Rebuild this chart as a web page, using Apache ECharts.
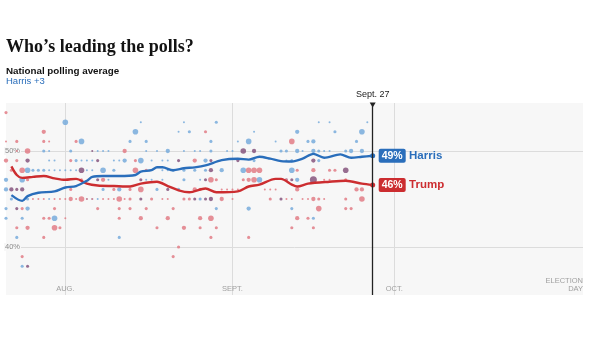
<!DOCTYPE html>
<html><head><meta charset="utf-8">
<script src="https://cdn.jsdelivr.net/npm/echarts@6/dist/echarts.min.js"></script>
<style>html,body{margin:0;padding:0;background:#fff}#c{width:600px;height:337px}</style>
</head><body><div id="c"></div>
<script>
// ---------- data ----------
const year = '2024-';
const startDate = '07-21', endDate = '11-05', asOfDate = '09-27';
const yMin = 35, yMax = 55;
const monthTicks = ['08-01', '09-01', '10-01'];
const monthTickLabels = ['AUG.', 'SEPT.', 'OCT.'];
const electionLabel = 'ELECTION\nDAY';
const yGridValues = [40, 50];
const yGridLabels = ['40%', '50%'];
const asOfLabel = 'Sept. 27';
const candidates = ['Harris', 'Trump'];
const endLabels = ['49%', '46%'];
const titleText = 'Who\u2019s leading the polls?';
const subtitleText = 'National polling average';
const leadText = 'Harris +3';

const harrisAvg = [['07-22',45.4],['07-24',44.8],['07-25',45.3],['07-27',45.65],['07-30',45.8],['08-01',46.2],['08-03',46.35],['08-05',46.9],['08-06',47.3],['08-08',47.4],['08-11',47.4],['08-14',47.5],['08-15',47.85],['08-17',48.0],['08-18',48.3],['08-19',48.3],['08-21',48.0],['08-23',48.2],['08-25',48.3],['08-27',48.5],['08-30',49.05],['09-02',49.2],['09-04',49.1],['09-06',49.4],['09-08',49.2],['09-10',48.95],['09-12',48.9],['09-14',49.2],['09-16',49.7],['09-18',49.3],['09-21',49.65],['09-23',49.3],['09-25',49.4],['09-27',49.5]];
const trumpAvg = [['07-22',48.4],['07-23',47.5],['07-24',47.2],['07-26',47.3],['07-28',47.4],['07-30',47.15],['08-01',47.0],['08-03',47.1],['08-05',46.6],['08-07',46.4],['08-10',46.35],['08-13',46.3],['08-15',46.6],['08-18',46.8],['08-20',46.35],['08-22',45.9],['08-24',45.7],['08-27',46.1],['08-29',45.7],['09-02',45.8],['09-04',46.3],['09-06',46.5],['09-09',47.1],['09-10',47.1],['09-12',46.5],['09-13',46.3],['09-15',46.6],['09-19',46.8],['09-22',46.9],['09-25',46.6],['09-27',46.45]];

// individual polls: [date, percent, poll weight 1..5]
const harrisPolls = [
['07-21',47,3],['07-21',46,3],['07-21',44,2],['07-21',43,2],['07-22',45,2],['07-23',41,2],
['07-24',47,4],['07-24',43,2],['07-24',38,2],['07-25',48,4],['07-25',45,2],['07-25',44,3],
['07-26',48,2],['07-27',48,2],['07-28',50,2],['07-28',48,2],['07-29',50,1],['07-29',49,1],['07-29',48,1],['07-29',45,1],
['07-30',49,1],['07-30',48,1],['07-30',43,4],['07-31',48,1],['08-01',53,4],['08-01',48,1],['08-02',50,2],['08-02',48,1],
['08-03',49,2],['08-03',48,1],['08-04',51,4],['08-04',49,1],['08-05',49,1],['08-05',48,1],['08-05',45,1],
['08-06',49,1],['08-06',48,1],['08-06',45,1],['08-07',50,1],['08-07',45,1],['08-08',50,1],['08-08',48,4],['08-08',46,2],
['08-09',50,1],['08-09',47,1],['08-10',49,1],['08-10',48,2],['08-11',49,1],['08-11',46,3],['08-11',41,2],['08-12',49,3],
['08-13',51,2],['08-14',52,4],['08-15',53,1],['08-15',49,4],['08-16',51,2],['08-16',50,1],['08-16',47,1],['08-17',49,1],['08-17',47,1],
['08-18',50,1],['08-18',46,2],['08-19',49,1],['08-19',48,1],['08-19',47,1],['08-20',50,3],['08-20',49,1],['08-20',48,1],['08-21',48,2],
['08-22',52,1],['08-22',46,2],['08-23',53,1],['08-23',50,1],['08-23',48,2],['08-23',47,2],['08-24',52,2],['08-25',50,1],['08-25',48,2],
['08-26',50,1],['08-26',47,1],['08-26',45,2],['08-27',49,3],['08-27',48,2],['08-28',51,2],['08-28',50,2],['08-29',53,2],['08-29',44,2],
['08-30',48,3],['08-31',50,1],['09-01',50,1],['09-02',51,1],['09-03',48,4],['09-04',51,4],['09-04',44,3],['09-05',52,1],['09-05',49,2],
['09-06',47,4],['09-09',51,1],['09-10',50,2],['09-11',50,2],['09-11',49,1],['09-11',47,2],['09-12',49,2],['09-12',48,4],['09-12',44,2],
['09-13',52,3],['09-13',50,3],['09-13',47,3],['09-14',50,1],['09-15',51,2],['09-16',51,3],['09-16',50,3],['09-16',43,2],
['09-17',53,1],['09-17',50,2],['09-17',49,2],['09-18',50,1],['09-19',53,1],['09-19',50,1],['09-20',52,2],['09-22',50,2],
['09-23',50,3],['09-24',51,2],['09-25',52,4],['09-25',50,3],['09-26',53,1]
];
const trumpPolls = [
['07-21',54,2],['07-21',51,1],['07-21',49,3],['07-22',48,2],['07-23',51,2],['07-23',50,1],['07-23',49,2],['07-23',42,2],
['07-24',48,4],['07-24',44,2],['07-24',39,2],['07-25',50,4],['07-25',47,2],['07-25',42,3],['07-26',45,1],['07-27',45,1],
['07-28',52,3],['07-28',51,2],['07-28',45,1],['07-28',43,2],['07-28',41,2],['07-29',51,1],['07-29',43,2],['07-30',45,1],['07-30',44,2],['07-30',42,4],
['07-31',45,1],['07-31',42,2],['08-01',45,1],['08-01',43,1],['08-02',49,2],['08-02',46,2],['08-02',45,3],['08-03',51,2],['08-03',45,1],
['08-04',47,2],['08-04',45,4],['08-05',45,1],['08-06',45,1],['08-07',44,2],['08-08',47,3],['08-08',45,1],['08-09',45,1],
['08-10',46,2],['08-10',45,1],['08-11',45,4],['08-11',44,2],['08-11',43,2],['08-12',50,3],['08-12',45,1],['08-13',46,2],['08-13',45,2],['08-13',44,2],
['08-14',49,2],['08-14',48,4],['08-15',46,4],['08-15',43,3],['08-16',48,2],['08-16',44,2],['08-17',45,2],['08-18',42,2],['08-19',45,1],
['08-20',45,1],['08-20',43,3],['08-21',44,2],['08-21',39,2],['08-22',40,2],['08-23',45,2],['08-23',42,3],['08-24',45,2],
['08-25',49,3],['08-25',46,3],['08-26',46,2],['08-26',43,3],['08-26',42,2],['08-27',52,2],['08-28',47,4],['08-28',43,4],['08-28',41,2],
['08-29',47,2],['08-29',42,2],['08-30',46,1],['08-30',45,3],['08-31',46,1],['09-01',46,1],['09-01',45,1],['09-02',46,1],['09-03',47,2],
['09-04',48,4],['09-04',47,3],['09-04',41,2],['09-05',48,4],['09-05',47,4],['09-06',48,4],['09-07',46,1],['09-08',46,1],['09-08',45,2],['09-09',46,1],
['09-11',47,2],['09-11',45,1],['09-12',51,4],['09-12',45,1],['09-12',42,2],['09-13',48,2],['09-13',46,3],['09-13',43,3],['09-14',45,1],
['09-15',45,1],['09-15',43,2],['09-16',48,3],['09-16',45,3],['09-16',42,2],['09-17',45,2],['09-17',44,4],['09-18',47,1],['09-18',45,1],
['09-19',48,2],['09-19',47,1],['09-20',48,2],['09-22',47,2],['09-22',45,2],['09-22',44,2],['09-23',44,2],['09-24',46,3],['09-25',46,3],['09-25',45,4]
];
const overlapPolls = [
['07-22',46,3],['07-23',46,2],['07-23',44,2],['07-24',46,3],['07-25',49,3],['07-25',38,2],
['08-04',48,4],['08-06',50,1],['08-07',49,2],['08-07',47,2],['08-15',47,2],['08-15',45,2],['08-20',46,2],['08-22',49,2],
['08-25',45,2],['08-27',47,2],['08-27',45,2],['08-28',49,2],['08-28',48,3],['08-28',45,3],
['09-02',49,2],['09-03',50,4],['09-05',50,3],['09-10',45,2],['09-12',47,2],['09-16',49,3],['09-16',47,5],['09-22',48,4]
];

// ---------- styling ----------
const SANS = 'Liberation Sans, Arial, sans-serif';
const BLUE = '#2a6ebb', RED = '#cc2d30';
const DOT_BLUE = '#78abdc', DOT_RED = '#e27d86', DOT_PURPLE = '#86557e';
const BG = '#f7f7f7';
const dotSizes = [0, 2, 3.1, 4.3, 5.6, 7];
const ts = s => +echarts.time.parse(year + s);
const toPoints = arr => arr.map(p => [ts(p[0]), p[1], p[2]]);

function dotSeries(name, arr, color, opacity) {
  return {
    type: 'scatter', name, data: toPoints(arr), silent: true, z: 2,
    symbolSize: v => dotSizes[v[2]],
    itemStyle: { color, opacity }
  };
}
function avgSeries(idx, arr, color) {
  const n = arr.length;
  return {
    type: 'line', name: candidates[idx], z: 4, smooth: 0.3, silent: true,
    symbol: 'none', showSymbol: true, showAllSymbol: true,
    data: arr.map((p, i) => i === n - 1
      ? { value: [ts(p[0]), p[1]], symbol: 'circle', symbolSize: 5 }
      : [ts(p[0]), p[1]]),
    lineStyle: { color, width: 2.4 },
    itemStyle: { color },
    endLabel: {
      show: true, distance: 6,
      formatter: () => '{box|' + endLabels[idx] + '} {name|' + candidates[idx] + '}',
      rich: {
        box: { backgroundColor: color, color: '#fff', fontWeight: 'bold', fontSize: 10.5, fontFamily: SANS,
               padding: [2, 3, 1, 3], borderRadius: 2 },
        name: { color, fontWeight: 'bold', fontSize: 11.5, fontFamily: SANS }
      }
    }
  };
}

const chart = echarts.init(document.getElementById('c'), null, { renderer: 'canvas' });
const harrisDots = dotSeries('Harris polls', harrisPolls, DOT_BLUE, 0.85);
harrisDots.markLine = {
  silent: true, symbol: 'none', z: 1, animation: false,
  lineStyle: { color: '#dcdcdc', width: 1, type: 'solid' },
  label: { show: true, position: 'start', distance: -15, color: '#8a8a8a', fontSize: 7.5, fontFamily: SANS,
           backgroundColor: BG, padding: [0, 1] },
  data: [
    ...yGridValues.map((v, i) => ({ yAxis: v, label: { formatter: yGridLabels[i] } })),
    ...monthTicks.map(d => ({ xAxis: ts(d), label: { show: false } }))
  ]
};
const harrisLine = avgSeries(0, harrisAvg, BLUE);
harrisLine.markLine = {
  silent: true, symbol: 'none', z: 6, animation: false,
  lineStyle: { color: '#222', width: 1.3, type: 'solid' },
  label: { show: true, position: 'end', distance: 4, formatter: asOfLabel, color: '#222', fontSize: 9, fontFamily: SANS },
  data: [{ xAxis: ts(asOfDate) }]
};
harrisLine.markPoint = {
  silent: true, animation: false, symbol: 'triangle', symbolSize: [6, 5], symbolRotate: 180, symbolOffset: [0, 2],
  itemStyle: { color: '#222' }, label: { show: false },
  data: [{ coord: [ts(asOfDate), yMax] }]
};

const xLabelData = monthTicks.map((d, i) => ({ value: [ts(d), yMin], name: monthTickLabels[i] }))
  .concat([{ value: [ts(endDate), yMin], name: electionLabel, label: { align: 'right' } }]);

chart.setOption({
  animation: false,
  textStyle: { fontFamily: SANS },
  graphic: [
    { type: 'text', x: 6, y: 47, style: { text: titleText, font: 'bold 18px "Liberation Serif", "Times New Roman", serif', fill: '#121212', verticalAlign: 'middle' } },
    { type: 'text', x: 6, y: 71, style: { text: subtitleText, font: 'bold 9.8px ' + SANS, fill: '#121212', verticalAlign: 'middle' } },
    { type: 'text', x: 6, y: 81.5, style: { text: leadText, font: '9.5px ' + SANS, fill: BLUE, verticalAlign: 'middle' } }
  ],
  grid: { left: 6, right: 17, top: 103, bottom: 42, show: true, backgroundColor: BG, borderWidth: 0, containLabel: false },
  xAxis: { type: 'time', min: ts(startDate), max: ts(endDate), show: false },
  yAxis: { type: 'value', min: yMin, max: yMax, show: false },
  series: [
    harrisDots,
    dotSeries('Trump polls', trumpPolls, DOT_RED, 0.85),
    dotSeries('Overlap', overlapPolls, DOT_PURPLE, 0.85),
    avgSeries(1, trumpAvg, RED),
    harrisLine,
    {
      type: 'scatter', name: 'x labels', silent: true, z: 7, symbolSize: 0, data: xLabelData,
      label: { show: true, position: 'top', distance: 2, formatter: '{b}', color: '#8a8a8a', fontSize: 7.5, lineHeight: 8, fontFamily: SANS }
    }
  ]
});
</script></body></html>
